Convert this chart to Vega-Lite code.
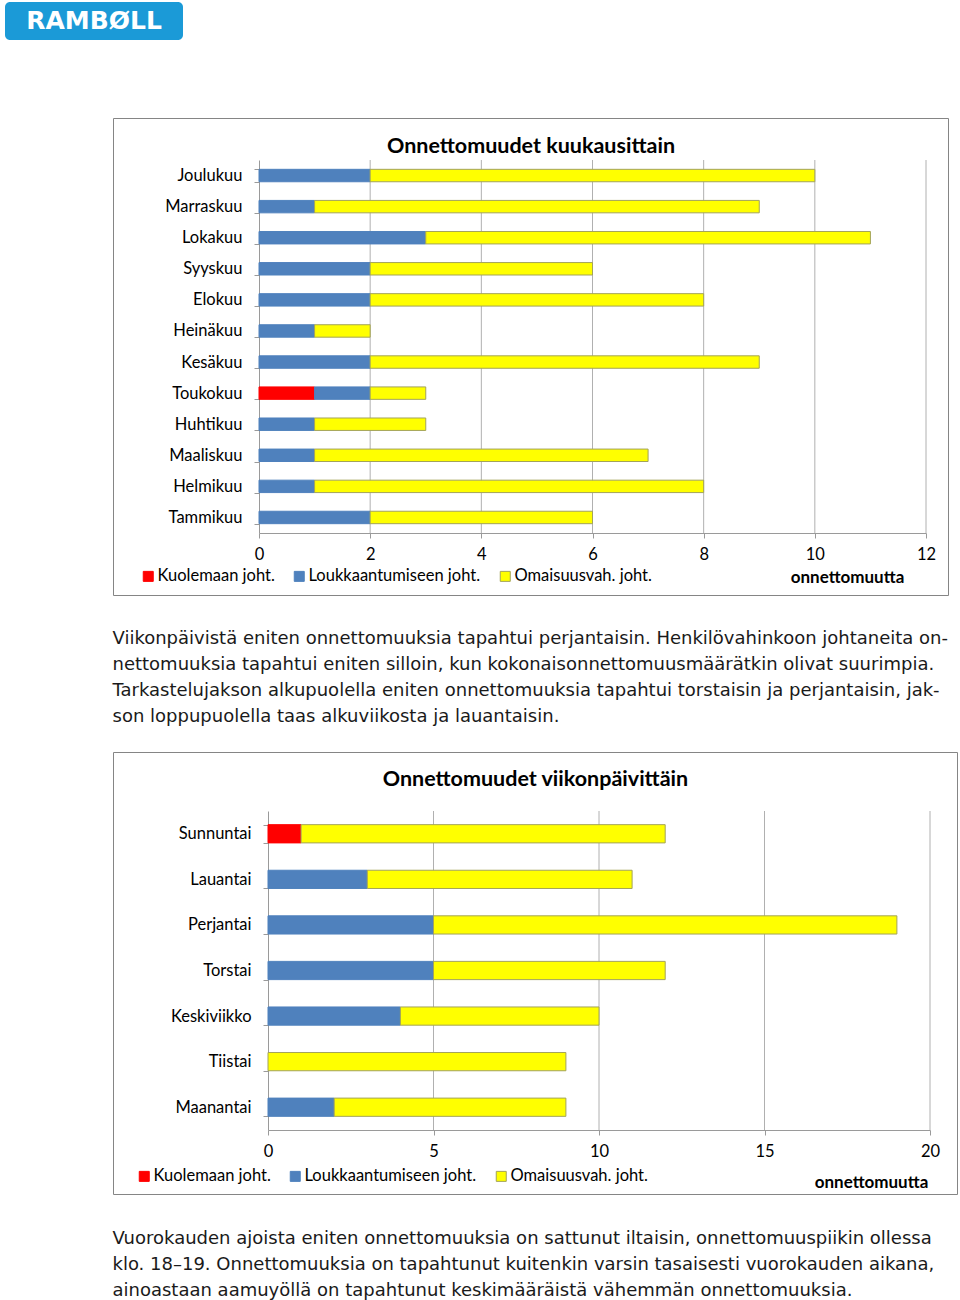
{
  "$schema": "https://vega.github.io/schema/vega-lite/v6.json",
  "background": "white",
  "padding": {"left": 5, "top": 2, "right": 0, "bottom": 0},
  "config": {"view": {"stroke": null}},
  "datasets": {
    "kuukausi": [
      {"kk": "Joulukuu", "luokka": "Loukkaantumiseen joht.", "n": 2},
      {"kk": "Joulukuu", "luokka": "Omaisuusvah. joht.", "n": 8},
      {"kk": "Marraskuu", "luokka": "Loukkaantumiseen joht.", "n": 1},
      {"kk": "Marraskuu", "luokka": "Omaisuusvah. joht.", "n": 8},
      {"kk": "Lokakuu", "luokka": "Loukkaantumiseen joht.", "n": 3},
      {"kk": "Lokakuu", "luokka": "Omaisuusvah. joht.", "n": 8},
      {"kk": "Syyskuu", "luokka": "Loukkaantumiseen joht.", "n": 2},
      {"kk": "Syyskuu", "luokka": "Omaisuusvah. joht.", "n": 4},
      {"kk": "Elokuu", "luokka": "Loukkaantumiseen joht.", "n": 2},
      {"kk": "Elokuu", "luokka": "Omaisuusvah. joht.", "n": 6},
      {"kk": "Heinäkuu", "luokka": "Loukkaantumiseen joht.", "n": 1},
      {"kk": "Heinäkuu", "luokka": "Omaisuusvah. joht.", "n": 1},
      {"kk": "Kesäkuu", "luokka": "Loukkaantumiseen joht.", "n": 2},
      {"kk": "Kesäkuu", "luokka": "Omaisuusvah. joht.", "n": 7},
      {"kk": "Toukokuu", "luokka": "Kuolemaan joht.", "n": 1},
      {"kk": "Toukokuu", "luokka": "Loukkaantumiseen joht.", "n": 1},
      {"kk": "Toukokuu", "luokka": "Omaisuusvah. joht.", "n": 1},
      {"kk": "Huhtikuu", "luokka": "Loukkaantumiseen joht.", "n": 1},
      {"kk": "Huhtikuu", "luokka": "Omaisuusvah. joht.", "n": 2},
      {"kk": "Maaliskuu", "luokka": "Loukkaantumiseen joht.", "n": 1},
      {"kk": "Maaliskuu", "luokka": "Omaisuusvah. joht.", "n": 6},
      {"kk": "Helmikuu", "luokka": "Loukkaantumiseen joht.", "n": 1},
      {"kk": "Helmikuu", "luokka": "Omaisuusvah. joht.", "n": 7},
      {"kk": "Tammikuu", "luokka": "Loukkaantumiseen joht.", "n": 2},
      {"kk": "Tammikuu", "luokka": "Omaisuusvah. joht.", "n": 4}
    ],
    "paiva": [
      {"pv": "Sunnuntai", "luokka": "Kuolemaan joht.", "n": 1},
      {"pv": "Sunnuntai", "luokka": "Omaisuusvah. joht.", "n": 11},
      {"pv": "Lauantai", "luokka": "Loukkaantumiseen joht.", "n": 3},
      {"pv": "Lauantai", "luokka": "Omaisuusvah. joht.", "n": 8},
      {"pv": "Perjantai", "luokka": "Loukkaantumiseen joht.", "n": 5},
      {"pv": "Perjantai", "luokka": "Omaisuusvah. joht.", "n": 14},
      {"pv": "Torstai", "luokka": "Loukkaantumiseen joht.", "n": 5},
      {"pv": "Torstai", "luokka": "Omaisuusvah. joht.", "n": 7},
      {"pv": "Keskiviikko", "luokka": "Loukkaantumiseen joht.", "n": 4},
      {"pv": "Keskiviikko", "luokka": "Omaisuusvah. joht.", "n": 6},
      {"pv": "Tiistai", "luokka": "Omaisuusvah. joht.", "n": 9},
      {"pv": "Maanantai", "luokka": "Loukkaantumiseen joht.", "n": 2},
      {"pv": "Maanantai", "luokka": "Omaisuusvah. joht.", "n": 7}
    ],
    "grid1": [{"v": 2}, {"v": 4}, {"v": 6}, {"v": 8}, {"v": 10}, {"v": 12}],
    "grid2": [{"v": 5}, {"v": 10}, {"v": 15}, {"v": 20}],
    "logo": [{"t": "RAMBØLL"}]
  },
  "spacing": 69,
  "vconcat": [
    {
      "width": 178,
      "height": 38,
      "view": {"fill": "#1b9ad7", "stroke": null, "cornerRadius": 5},
      "data": {"name": "logo"},
      "mark": {"type": "text", "color": "white", "fontSize": 25, "font": "DejaVu Sans", "fontWeight": "bold", "align": "center", "baseline": "middle"},
      "encoding": {"text": {"field": "t", "type": "nominal"}}
    },
    {
      "spacing": 10,
      "hconcat": [
        {
          "width": 97,
          "height": 1,
          "view": {"stroke": null},
          "data": {"values": []},
          "mark": "point",
          "encoding": {}
        },
        {
          "spacing": 17,
          "resolve": {"scale": {"color": "independent", "stroke": "independent"}},
          "vconcat": [
            {
              "title": {
                "text": [
                  "Viikonpäivistä eniten onnettomuuksia tapahtui perjantaisin. Henkilövahinkoon johtaneita on-",
                  "nettomuuksia tapahtui eniten silloin, kun kokonaisonnettomuusmäärätkin olivat suurimpia.",
                  "Tarkastelujakson alkupuolella eniten onnettomuuksia tapahtui torstaisin ja perjantaisin, jak-",
                  "son loppupuolella taas alkuviikosta ja lauantaisin."
                ],
                "orient": "bottom",
                "anchor": "start",
                "baseline": "top",
                "offset": 34,
                "font": "DejaVu Sans",
                "fontSize": 18,
                "fontWeight": "normal",
                "lineHeight": 26,
                "color": "#1a1a1a"
              },
              "resolve": {"scale": {"color": "independent", "stroke": "independent"}},
              "vconcat": [
                {
                  "width": 835,
                  "height": 477,
                  "view": {"stroke": "#858585", "strokeWidth": 1, "fill": "white"},
                  "resolve": {"scale": {"y": "independent"}, "axis": {"x": "independent"}},
                  "layer": [
                    {
                      "data": {"name": "grid1"},
                      "mark": {"type": "rule", "color": "#b0b0b0", "strokeWidth": 1},
                      "encoding": {
                        "x": {
                          "field": "v",
                          "type": "quantitative",
                          "scale": {"domain": [0, 12], "range": [146, 813], "nice": false},
                          "axis": {
                            "orient": "top",
                            "title": "Onnettomuudet kuukausittain",
                            "labels": false,
                            "ticks": false,
                            "domain": false,
                            "grid": false,
                            "titleX": 417.5,
                            "titleY": 34,
                            "titleAlign": "center",
                            "titleBaseline": "alphabetic",
                            "titleFont": "Lato",
                            "titleFontSize": 21.5,
                            "titleFontWeight": "bold",
                            "titleColor": "#000000"
                          }
                        },
                        "y": {"datum": 0, "type": "quantitative", "scale": {"domain": [0, 1], "range": [42, 415]}, "axis": null},
                        "y2": {"datum": 1}
                      }
                    },
                    {
                      "data": {"name": "kuukausi"},
                      "mark": {"type": "bar", "strokeWidth": 1},
                      "encoding": {
                        "y": {
                          "field": "kk",
                          "type": "nominal",
                          "sort": ["Joulukuu", "Marraskuu", "Lokakuu", "Syyskuu", "Elokuu", "Heinäkuu", "Kesäkuu", "Toukokuu", "Huhtikuu", "Maaliskuu", "Helmikuu", "Tammikuu"],
                          "scale": {"range": [42, 415], "paddingInner": 0.6, "paddingOuter": 0.3},
                          "axis": {
                            "title": null,
                            "orient": "left",
                            "offset": -146,
                            "domainColor": "#9a9a9a",
                            "tickColor": "#9a9a9a",
                            "tickBand": "extent",
                            "tickSize": 5,
                            "labelFont": "Lato",
                            "labelFontSize": 16.5,
                            "labelColor": "#000000",
                            "labelPadding": 12,
                            "grid": false
                          }
                        },
                        "x": {
                          "field": "n",
                          "type": "quantitative",
                          "stack": "zero",
                          "axis": {
                            "title": "onnettomuutta",
                            "orient": "bottom",
                            "offset": -62,
                            "values": [0, 2, 4, 6, 8, 10, 12],
                            "domainColor": "#9a9a9a",
                            "tickColor": "#9a9a9a",
                            "tickSize": 5,
                            "grid": false,
                            "labelFont": "Lato",
                            "labelFontSize": 16.5,
                            "labelColor": "#000000",
                            "labelPadding": 8,
                            "labelFlush": false,
                            "titleFont": "Lato",
                            "titleFontSize": 17,
                            "titleFontWeight": "bold",
                            "titleColor": "#000000",
                            "titleX": 734,
                            "titleY": 49,
                            "titleAlign": "center",
                            "titleBaseline": "alphabetic"
                          }
                        },
                        "color": {
                          "field": "luokka",
                          "type": "nominal",
                          "scale": {"domain": ["Kuolemaan joht.", "Loukkaantumiseen joht.", "Omaisuusvah. joht."], "range": ["#ff0000", "#4f81bd", "#ffff00"]},
                          "legend": {
                            "orient": "none",
                            "legendX": 27,
                            "legendY": 450,
                            "direction": "horizontal",
                            "title": null,
                            "padding": 0,
                            "symbolType": "square",
                            "symbolSize": 100,
                            "symbolStrokeWidth": 1,
                            "labelFont": "Lato",
                            "labelFontSize": 16.5,
                            "labelColor": "#000000",
                            "labelLimit": 300,
                            "labelOffset": 1,
                            "columnPadding": 16
                          }
                        },
                        "stroke": {
                          "field": "luokka",
                          "type": "nominal",
                          "scale": {"domain": ["Kuolemaan joht.", "Loukkaantumiseen joht.", "Omaisuusvah. joht."], "range": ["#ff0000", "#4f81bd", "#a3a35a"]}
                        }
                      }
                    }
                  ]
                }
              ]
            },
            {
              "title": {
                "text": [
                  "Vuorokauden ajoista eniten onnettomuuksia on sattunut iltaisin, onnettomuuspiikin ollessa",
                  "klo. 18–19. Onnettomuuksia on tapahtunut kuitenkin varsin tasaisesti vuorokauden aikana,",
                  "ainoastaan aamuyöllä on tapahtunut keskimääräistä vähemmän onnettomuuksia."
                ],
                "orient": "bottom",
                "anchor": "start",
                "baseline": "top",
                "offset": 35,
                "font": "DejaVu Sans",
                "fontSize": 18,
                "fontWeight": "normal",
                "lineHeight": 26,
                "color": "#1a1a1a"
              },
              "resolve": {"scale": {"color": "independent", "stroke": "independent"}},
              "vconcat": [
                {
                  "width": 844,
                  "height": 442,
                  "view": {"stroke": "#858585", "strokeWidth": 1, "fill": "white"},
                  "resolve": {"scale": {"y": "independent"}, "axis": {"x": "independent"}},
                  "layer": [
                    {
                      "data": {"name": "grid2"},
                      "mark": {"type": "rule", "color": "#b0b0b0", "strokeWidth": 1},
                      "encoding": {
                        "x": {
                          "field": "v",
                          "type": "quantitative",
                          "scale": {"domain": [0, 20], "range": [155, 817], "nice": false},
                          "axis": {
                            "orient": "top",
                            "title": "Onnettomuudet viikonpäivittäin",
                            "labels": false,
                            "ticks": false,
                            "domain": false,
                            "grid": false,
                            "titleX": 422,
                            "titleY": 33,
                            "titleAlign": "center",
                            "titleBaseline": "alphabetic",
                            "titleFont": "Lato",
                            "titleFontSize": 21.5,
                            "titleFontWeight": "bold",
                            "titleColor": "#000000"
                          }
                        },
                        "y": {"datum": 0, "type": "quantitative", "scale": {"domain": [0, 1], "range": [59, 378]}, "axis": null},
                        "y2": {"datum": 1}
                      }
                    },
                    {
                      "data": {"name": "paiva"},
                      "mark": {"type": "bar", "strokeWidth": 1},
                      "encoding": {
                        "y": {
                          "field": "pv",
                          "type": "nominal",
                          "sort": ["Sunnuntai", "Lauantai", "Perjantai", "Torstai", "Keskiviikko", "Tiistai", "Maanantai"],
                          "scale": {"range": [59, 378], "paddingInner": 0.6, "paddingOuter": 0.3},
                          "axis": {
                            "title": null,
                            "orient": "left",
                            "offset": -155,
                            "domainColor": "#9a9a9a",
                            "tickColor": "#9a9a9a",
                            "tickBand": "extent",
                            "tickSize": 5,
                            "labelFont": "Lato",
                            "labelFontSize": 16.5,
                            "labelColor": "#000000",
                            "labelPadding": 12,
                            "grid": false
                          }
                        },
                        "x": {
                          "field": "n",
                          "type": "quantitative",
                          "stack": "zero",
                          "axis": {
                            "title": "onnettomuutta",
                            "orient": "bottom",
                            "offset": -64,
                            "values": [0, 5, 10, 15, 20],
                            "domainColor": "#9a9a9a",
                            "tickColor": "#9a9a9a",
                            "tickSize": 5,
                            "grid": false,
                            "labelFont": "Lato",
                            "labelFontSize": 16.5,
                            "labelColor": "#000000",
                            "labelPadding": 8,
                            "labelFlush": false,
                            "titleFont": "Lato",
                            "titleFontSize": 17,
                            "titleFontWeight": "bold",
                            "titleColor": "#000000",
                            "titleX": 758,
                            "titleY": 57,
                            "titleAlign": "center",
                            "titleBaseline": "alphabetic"
                          }
                        },
                        "color": {
                          "field": "luokka",
                          "type": "nominal",
                          "scale": {"domain": ["Kuolemaan joht.", "Loukkaantumiseen joht.", "Omaisuusvah. joht."], "range": ["#ff0000", "#4f81bd", "#ffff00"]},
                          "legend": {
                            "orient": "none",
                            "legendX": 23,
                            "legendY": 416,
                            "direction": "horizontal",
                            "title": null,
                            "padding": 0,
                            "symbolType": "square",
                            "symbolSize": 100,
                            "symbolStrokeWidth": 1,
                            "labelFont": "Lato",
                            "labelFontSize": 16.5,
                            "labelColor": "#000000",
                            "labelLimit": 300,
                            "labelOffset": 1,
                            "columnPadding": 16
                          }
                        },
                        "stroke": {
                          "field": "luokka",
                          "type": "nominal",
                          "scale": {"domain": ["Kuolemaan joht.", "Loukkaantumiseen joht.", "Omaisuusvah. joht."], "range": ["#ff0000", "#4f81bd", "#a3a35a"]}
                        }
                      }
                    }
                  ]
                }
              ]
            }
          ]
        }
      ]
    }
  ]
}
